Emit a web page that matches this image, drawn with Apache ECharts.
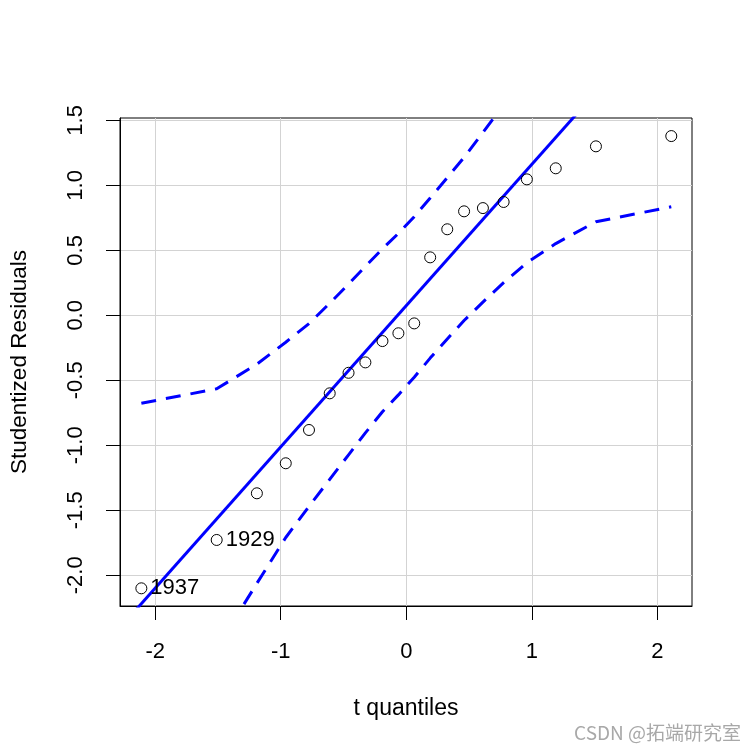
<!DOCTYPE html>
<html>
<head>
<meta charset="utf-8">
<script src="https://cdn.jsdelivr.net/npm/echarts@6/dist/echarts.min.js"></script>
<style>
html,body{margin:0;padding:0;background:#fff;}
#chart{width:753px;height:753px;}
</style>
</head>
<body>
<div id="chart"></div>
<script>
// ---- data ----
var tQuantiles = [-2.11,-1.51,-1.19,-0.96,-0.775,-0.61,-0.46,-0.326,-0.19,-0.063,0.063,0.19,0.326,0.46,0.61,0.775,0.96,1.19,1.51,2.11];
var residuals  = [-2.100,-1.728,-1.369,-1.138,-0.882,-0.600,-0.442,-0.362,-0.198,-0.138,-0.062,0.446,0.662,0.800,0.825,0.872,1.046,1.131,1.300,1.379];
var upperEnv   = [-0.677,-0.565,-0.376,-0.207,-0.064,0.093,0.240,0.377,0.512,0.630,0.759,0.902,1.059,1.215,1.406,1.62,1.88,2.21,2.72,3.91];
var lowerEnv   = [-3.76,-2.56,-2.062,-1.709,-1.470,-1.262,-1.073,-0.904,-0.742,-0.612,-0.476,-0.329,-0.182,-0.040,0.102,0.252,0.405,0.552,0.720,0.835];
var refLineX   = [-2.3, 2.3];
var refLineY   = [-2.425, 2.575];
var pointLabels = {0: '1937', 1: '1929'};
var xTicks = [-2,-1,0,1,2];
var yTicks = [-2.0,-1.5,-1.0,-0.5,0.0,0.5,1.0,1.5];

var FONT = 'Liberation Sans, Arial, sans-serif';

function pairs(xs, ys){ return xs.map(function(x,i){ return [x, ys[i]]; }); }

var pts = tQuantiles.map(function(x,i){
  var item = {value:[x, residuals[i]]};
  if (pointLabels[i]) {
    item.label = {show:true, formatter: pointLabels[i], position:'right', distance:3,
      color:'#000', fontSize:22, fontFamily:FONT, textBorderWidth:0, opacity:1};
  }
  return item;
});

var chart = echarts.init(document.getElementById('chart'), null, {renderer:'canvas'});
chart.setOption({
  animation:false,
  backgroundColor:'#fff',
  grid:{left:118, right:61, top:118, bottom:147, show:true, borderColor:'#000', borderWidth:1, backgroundColor:'transparent'},
  xAxis:{
    type:'value', min:-2.28, max:2.275,
    name:'t quantiles', nameLocation:'middle', nameGap:91,
    nameTextStyle:{color:'#000', fontSize:23, fontFamily:FONT},
    axisLine:{show:true, onZero:false, lineStyle:{color:'#000', width:1}},
    axisTick:{show:true, inside:false, length:14, customValues:xTicks, lineStyle:{color:'#000', width:1}},
    axisLabel:{show:true, customValues:xTicks, margin:35, color:'#000', fontSize:22, fontFamily:FONT,
      formatter:function(v){ return String(v); }},
    splitLine:{show:true, lineStyle:{color:'#D3D3D3', width:1}}
  },
  yAxis:{
    type:'value', min:-2.236, max:1.518,
    name:'Studentized Residuals', nameLocation:'middle', nameGap:89, nameRotate:90,
    nameTextStyle:{color:'#000', fontSize:22.5, fontFamily:FONT},
    axisLine:{show:true, onZero:false, lineStyle:{color:'#000', width:1}},
    axisTick:{show:true, inside:false, length:14, customValues:yTicks, lineStyle:{color:'#000', width:1}},
    axisLabel:{show:true, customValues:yTicks, margin:33, rotate:90, color:'#000', fontSize:22, fontFamily:FONT,
      formatter:function(v){ return v.toFixed(1); }},
    splitLine:{show:true, lineStyle:{color:'#D3D3D3', width:1}}
  },
  series:[
    {type:'line', data:pairs(refLineX, refLineY), showSymbol:false, clip:true,
      lineStyle:{color:'#0000FF', width:3}, silent:true},
    {type:'line', data:pairs(tQuantiles, upperEnv), showSymbol:false, clip:true,
      lineStyle:{color:'#0000FF', width:3, type:[15,10]}, silent:true},
    {type:'line', data:pairs(tQuantiles, lowerEnv), showSymbol:false, clip:true,
      lineStyle:{color:'#0000FF', width:3, type:[15,10]}, silent:true},
    {type:'scatter', data:pts, symbol:'circle', symbolSize:11, clip:true,
      label:{color:'#000'},
      itemStyle:{color:'rgba(255,255,255,0)', borderColor:'#000', borderWidth:1, opacity:1}, z:5}
  ],
  graphic:[
    {type:'text', right:12, top:723, style:{text:'CSDN @拓端研究室', fill:'#A8A8A8',
      font:'19px "Noto Sans CJK SC", "Liberation Sans", sans-serif'}}
  ]
});
</script>
</body>
</html>
